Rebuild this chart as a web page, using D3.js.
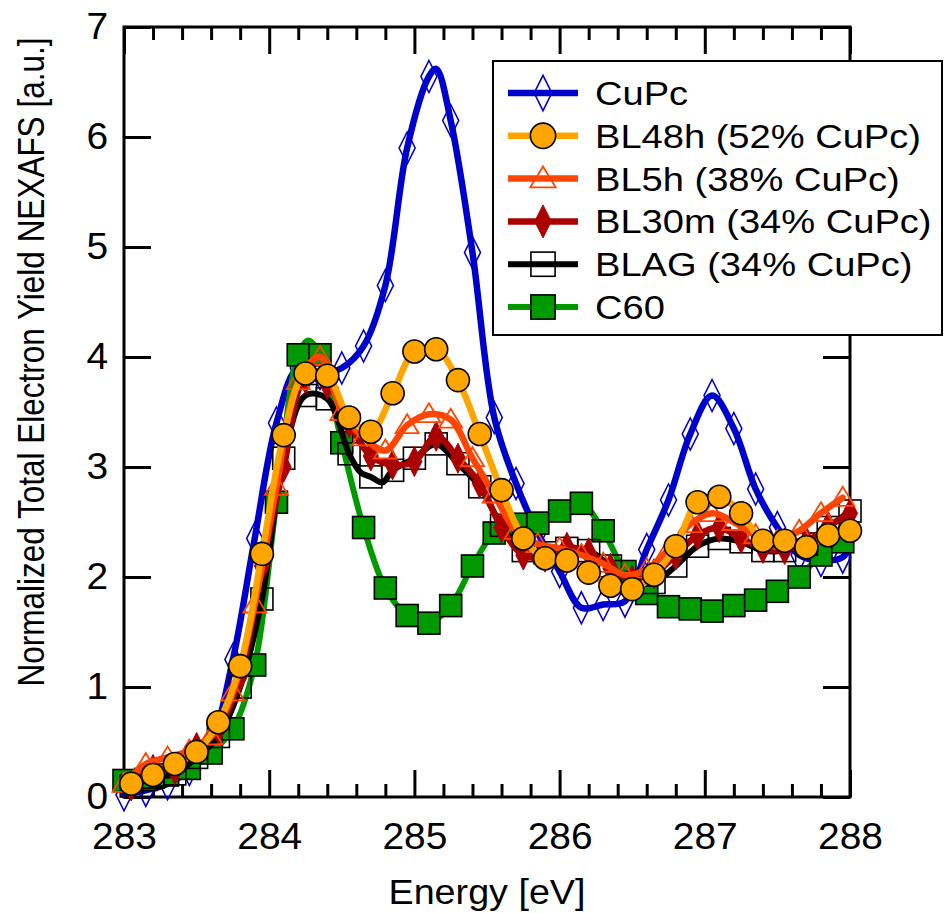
<!DOCTYPE html>
<html><head><meta charset="utf-8">
<script src="https://cdn.jsdelivr.net/npm/d3@7"></script>
<style>
body{margin:0;background:#fff}
svg{display:block}
text{font-family:"Liberation Sans",Arial,Helvetica,sans-serif;fill:#000}
</style>
</head><body>
<svg id="chart" width="948" height="913"></svg>
<script>
// ---------------- DATA ----------------
const energyA = [283.00,283.15,283.30,283.45,283.60,283.75,283.90,284.05,284.20,284.35,284.50,284.65,284.80,284.95,285.10,285.25,285.40,285.55,285.70,285.85,286.00,286.15,286.30,286.45,286.60,286.75,286.90,287.05,287.20,287.35,287.50,287.65,287.80,287.95];
const energyB = [283.05,283.20,283.35,283.50,283.65,283.80,283.95,284.10,284.25,284.40,284.55,284.70,284.85,285.00,285.15,285.30,285.45,285.60,285.75,285.90,286.05,286.20,286.35,286.50,286.65,286.80,286.95,287.10,287.25,287.40,287.55,287.70,287.85,288.00];

const cupc  = [0.02,0.06,0.12,0.25,0.50,1.25,2.35,3.40,3.90,3.85,3.90,4.10,4.65,5.90,6.55,6.15,4.95,3.45,2.85,2.40,2.05,1.72,1.75,1.78,2.25,2.70,3.30,3.65,3.35,2.80,2.45,2.20,2.15,2.18];
const bl48h = [0.12,0.20,0.30,0.41,0.68,1.19,2.21,3.29,3.85,3.83,3.45,3.32,3.67,4.05,4.07,3.79,3.30,2.79,2.35,2.17,2.15,2.04,1.92,1.89,2.02,2.28,2.68,2.73,2.58,2.33,2.33,2.27,2.38,2.42];
const bl5h  = [0.12,0.30,0.36,0.42,0.55,0.95,1.75,2.82,3.78,4.00,3.50,3.27,3.15,3.38,3.48,3.43,3.08,2.75,2.42,2.30,2.26,2.20,2.12,2.02,2.07,2.25,2.48,2.58,2.50,2.38,2.33,2.42,2.58,2.72];
const bl30m = [0.10,0.25,0.25,0.45,0.62,1.10,2.10,3.00,3.80,3.75,3.40,3.10,3.02,3.05,3.28,3.08,2.85,2.45,2.20,2.18,2.27,2.22,2.08,1.97,2.03,2.20,2.38,2.45,2.35,2.26,2.25,2.32,2.46,2.58];
const blag  = [0.10,0.18,0.21,0.36,0.55,1.00,1.80,3.08,3.65,3.62,3.12,2.91,2.97,3.08,3.21,3.03,2.82,2.47,2.24,2.22,2.26,2.24,2.10,1.95,1.95,2.10,2.28,2.35,2.32,2.24,2.24,2.30,2.45,2.60];
const c60   = [0.15,0.16,0.20,0.26,0.40,0.62,1.20,2.68,4.02,4.02,3.22,2.45,1.90,1.65,1.58,1.74,2.10,2.40,2.48,2.49,2.60,2.67,2.42,2.05,1.85,1.73,1.71,1.69,1.74,1.79,1.87,2.00,2.20,2.32];

// extra line-only points (between markers)
const cupcLineExtra = [[285.15,6.62],[288.00,2.30]];
const c60LineExtra  = [[284.27,4.15]];
const blagLineExtra = [[284.63,2.95],[284.78,2.86]];

const seriesNames = ["CuPc","BL48h (52% CuPc)","BL5h (38% CuPc)","BL30m (34% CuPc)","BLAG (34% CuPc)","C60"];
const xTickLabels = [283,284,285,286,287,288];
const yTickLabels = [0,1,2,3,4,5,6,7];
const xTitle = "Energy [eV]";
const yTitle = "Normalized Total Electron Yield NEXAFS [a.u.]";

// ---------------- STYLE ----------------
const styles = {
  "CuPc":             {color:"#0000cc", marker:"diamondOpen",  lw:6.5},
  "BL48h (52% CuPc)": {color:"#ffa500", marker:"circle",       lw:6.5},
  "BL5h (38% CuPc)":  {color:"#ff4500", marker:"triangleOpen", lw:6.5},
  "BL30m (34% CuPc)": {color:"#aa0000", marker:"diamondFill",  lw:6.5},
  "BLAG (34% CuPc)":  {color:"#000000", marker:"squareOpen",   lw:6},
  "C60":              {color:"#009900", marker:"squareFill",   lw:6}
};

const series = [
  {name:"CuPc",             e:energyA, v:cupc,  extra:cupcLineExtra},
  {name:"BL48h (52% CuPc)", e:energyB, v:bl48h, extra:[]},
  {name:"BL5h (38% CuPc)",  e:energyA, v:bl5h,  extra:[]},
  {name:"BL30m (34% CuPc)", e:energyB, v:bl30m, extra:[]},
  {name:"BLAG (34% CuPc)",  e:energyB, v:blag,  extra:blagLineExtra},
  {name:"C60",              e:energyA, v:c60,   extra:c60LineExtra}
];
// draw order (bottom -> top)
const drawOrder = ["CuPc","C60","BLAG (34% CuPc)","BL30m (34% CuPc)","BL5h (38% CuPc)","BL48h (52% CuPc)"];

// ---------------- CHART ----------------
const svg = d3.select("#chart");
const L = 124, R = 850, T = 27, B = 797;
const x = d3.scaleLinear().domain([283,288]).range([L,R]);
const y = d3.scaleLinear().domain([0,7]).range([B,T]);

function stretch(sel, f){
  sel.each(function(){
    const w = this.getComputedTextLength();
    d3.select(this).attr("textLength", w*f).attr("lengthAdjust","spacingAndGlyphs");
  });
}

const minorX = d3.range(283, 288.001, 0.2).map(d=>+d.toFixed(2)).filter(d=>Math.abs(d-Math.round(d))>1e-6);

function styleAxis(g){
  g.select(".domain").remove();
  g.selectAll(".tick line").attr("stroke","#000").attr("stroke-width",3);
}

// bottom
const gb = svg.append("g").attr("transform",`translate(0,${B})`)
  .call(d3.axisBottom(x).tickValues(xTickLabels).tickSize(-27).tickPadding(26).tickFormat(d3.format("d")));
styleAxis(gb);
gb.selectAll("text").attr("font-size",36).attr("font-family","Liberation Sans, Arial, sans-serif").attr("fill","#000");
stretch(gb.selectAll("text"), 1.08);
const gbm = svg.append("g").attr("transform",`translate(0,${B})`)
  .call(d3.axisBottom(x).tickValues(minorX).tickSize(-13).tickFormat(""));
styleAxis(gbm);
// top
const gt = svg.append("g").attr("transform",`translate(0,${T})`)
  .call(d3.axisTop(x).tickValues(xTickLabels).tickSize(-27).tickFormat(""));
styleAxis(gt);
const gtm = svg.append("g").attr("transform",`translate(0,${T})`)
  .call(d3.axisTop(x).tickValues(minorX).tickSize(-13).tickFormat(""));
styleAxis(gtm);
// left
const gl = svg.append("g").attr("transform",`translate(${L},0)`)
  .call(d3.axisLeft(y).tickValues(yTickLabels).tickSize(-27).tickPadding(16).tickFormat(d3.format("d")));
styleAxis(gl);
gl.selectAll("text").attr("font-size",36).attr("font-family","Liberation Sans, Arial, sans-serif").attr("fill","#000");
stretch(gl.selectAll("text"), 1.08);
// right
const gr = svg.append("g").attr("transform",`translate(${R},0)`)
  .call(d3.axisRight(y).tickValues(yTickLabels).tickSize(-27).tickFormat(""));
styleAxis(gr);

// frame
svg.append("rect").attr("x",L).attr("y",T).attr("width",R-L).attr("height",B-T)
  .attr("fill","none").attr("stroke","#000").attr("stroke-width",3);

// titles
const xt = svg.append("text").attr("x",(L+R)/2).attr("y",904).attr("text-anchor","middle")
  .attr("font-size",35).text(xTitle);
xt.attr("textLength",197).attr("lengthAdjust","spacingAndGlyphs");
svg.append("text").attr("transform","translate(44,362) rotate(-90) scale(1,1.15)")
  .attr("text-anchor","middle").attr("font-size",31.5).text(yTitle);

// markers
function drawMarker(g, type, color, cx, cy, s){
  s = s || 1;
  if(type==="diamondOpen"){
    g.append("path").attr("d",`M${cx},${cy-16*s}L${cx+8*s},${cy}L${cx},${cy+16*s}L${cx-8*s},${cy}Z`)
      .attr("fill","none").attr("stroke",color).attr("stroke-width",1.6);
  } else if(type==="diamondFill"){
    g.append("path").attr("d",`M${cx},${cy-15*s}L${cx+7.5*s},${cy}L${cx},${cy+15*s}L${cx-7.5*s},${cy}Z`)
      .attr("fill",color).attr("stroke",color).attr("stroke-width",1);
  } else if(type==="circle"){
    g.append("circle").attr("cx",cx).attr("cy",cy).attr("r",11.5*s)
      .attr("fill",color).attr("stroke","#000").attr("stroke-width",1.6);
  } else if(type==="triangleOpen"){
    g.append("path").attr("d",`M${cx},${cy-11*s}L${cx+11.5*s},${cy+8*s}L${cx-11.5*s},${cy+8*s}Z`)
      .attr("fill","none").attr("stroke",color).attr("stroke-width",1.8);
  } else if(type==="squareOpen"){
    g.append("rect").attr("x",cx-11*s).attr("y",cy-11*s).attr("width",22*s).attr("height",22*s)
      .attr("fill","none").attr("stroke","#000").attr("stroke-width",1.6);
  } else if(type==="squareFill"){
    g.append("rect").attr("x",cx-11*s).attr("y",cy-11*s).attr("width",22*s).attr("height",22*s)
      .attr("fill",color).attr("stroke","#000").attr("stroke-width",1.6);
  }
}

const line = d3.line().x(d=>x(d[0])).y(d=>y(d[1])).curve(d3.curveCatmullRom.alpha(0.5));
const plot = svg.append("g");
drawOrder.forEach(name=>{
  const s = series.find(d=>d.name===name);
  const st = styles[name];
  const pts = s.e.map((e,i)=>[e,s.v[i]]).concat(s.extra).sort((a,b)=>a[0]-b[0]);
  const g = plot.append("g");
  g.append("path").attr("d",line(pts)).attr("fill","none").attr("stroke",st.color)
    .attr("stroke-width",st.lw).attr("stroke-linejoin","round").attr("stroke-linecap","round");
  s.e.forEach((e,i)=>drawMarker(g, st.marker, st.color, x(e), y(s.v[i]), 1));
});

// legend
const lg = svg.append("g");
lg.append("rect").attr("x",493).attr("y",61).attr("width",449).attr("height",274)
  .attr("fill","#fff").attr("stroke","#000").attr("stroke-width",2);
seriesNames.forEach((name,i)=>{
  const cy = 93 + i*42.8;
  const st = styles[name];
  lg.append("line").attr("x1",508).attr("x2",578).attr("y1",cy).attr("y2",cy)
    .attr("stroke",st.color).attr("stroke-width",st.lw);
  drawMarker(lg, st.marker, st.color, 543, cy, 1.1);
  const t = lg.append("text").attr("x",595).attr("y",cy+12).attr("font-size",34).text(name);
  stretch(t, 1.12);
});
</script>
</body></html>
